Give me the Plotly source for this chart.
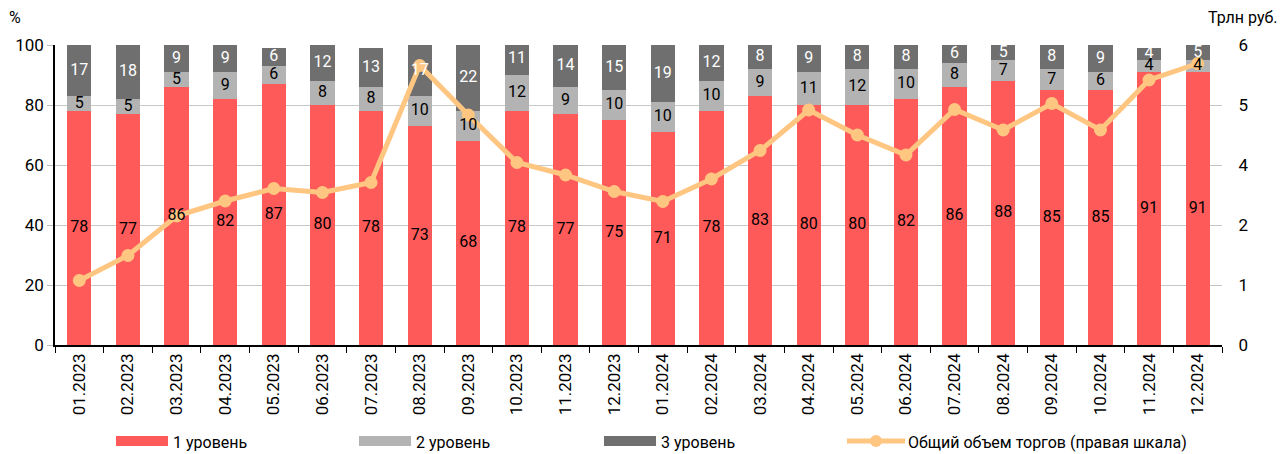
import plotly.graph_objects as go

months = ["01.2023", "02.2023", "03.2023", "04.2023", "05.2023", "06.2023",
          "07.2023", "08.2023", "09.2023", "10.2023", "11.2023", "12.2023",
          "01.2024", "02.2024", "03.2024", "04.2024", "05.2024", "06.2024",
          "07.2024", "08.2024", "09.2024", "10.2024", "11.2024", "12.2024"]
level1 = [78, 77, 86, 82, 87, 80, 78, 73, 68, 78, 77, 75,
          71, 78, 83, 80, 80, 82, 86, 88, 85, 85, 91, 91]
level2 = [5, 5, 5, 9, 6, 8, 8, 10, 10, 12, 9, 10,
          10, 10, 9, 11, 12, 10, 8, 7, 7, 6, 4, 4]
level3 = [17, 18, 9, 9, 6, 12, 13, 17, 22, 11, 14, 15,
          19, 12, 8, 9, 8, 8, 6, 5, 8, 9, 4, 5]
volume = [1.29, 1.79, 2.58, 2.88, 3.13, 3.05, 3.25, 5.59, 4.60, 3.65, 3.40, 3.07,
          2.87, 3.32, 3.89, 4.70, 4.20, 3.80, 4.71, 4.30, 4.83, 4.30, 5.30, 5.63]

left_ticks = [0, 20, 40, 60, 80, 100]
right_tickvals = [0, 1.2, 2.4, 3.6, 4.8, 6]
right_ticktext = ["0", "1", "2", "4", "5", "6"]

names = ["1 уровень", "2 уровень", "3 уровень", "Общий объем торгов (правая шкала)"]
C1, C2, C3, CL = "#FF5A5A", "#B3B3B3", "#6F6F6F", "#FFC682"
FONT = "Roboto"

W, H = 1286, 454
L, R, T, B = 55, 64, 45, 109

fig = go.Figure()
series = [(level1, C1, "black", names[0]),
          (level2, C2, "black", names[1]),
          (level3, C3, "white", names[2])]
for vals, col, txtcol, nm in series:
    fig.add_trace(go.Bar(
        x=months, y=vals, name=nm, marker=dict(color=col, line=dict(width=0)),
        showlegend=False, hoverinfo="x+y"))

fig.add_trace(go.Scatter(
    x=months, y=volume, name=names[3], yaxis="y2", mode="lines+markers",
    line=dict(color=CL, width=5), marker=dict(color=CL, size=13),
    showlegend=False))

# value labels, centred in each stacked segment, drawn above the line
base = [0] * len(months)
for vals, col, txtcol, nm in series:
    mids = [b + v / 2 for b, v in zip(base, vals)]
    fig.add_trace(go.Scatter(
        x=months, y=mids, yaxis="y3", mode="text", text=[str(v) for v in vals],
        textposition="middle center", textfont=dict(family=FONT, size=16, color=txtcol),
        showlegend=False, hoverinfo="skip"))
    base = [b + v for b, v in zip(base, vals)]


def px_x(p):
    return (p - L) / (W - L - R)


def px_y(p):
    return (H - B - p) / (H - T - B)


shapes = []
annotations = []
legend_items = [(116, C1, names[0]), (359, C2, names[1]), (604, C3, names[2])]
for x0, col, nm in legend_items:
    shapes.append(dict(type="rect", xref="paper", yref="paper",
                       x0=px_x(x0), x1=px_x(x0 + 52), y0=px_y(446), y1=px_y(436),
                       fillcolor=col, line=dict(width=0)))
    annotations.append(dict(xref="paper", yref="paper", x=px_x(x0 + 55), y=px_y(442),
                            text=nm, showarrow=False, xanchor="left", yanchor="middle",
                            font=dict(family=FONT, size=16, color="black")))
shapes.append(dict(type="line", xref="paper", yref="paper",
                   x0=px_x(847), x1=px_x(905), y0=px_y(441), y1=px_y(441),
                   line=dict(color=CL, width=5)))
shapes.append(dict(type="circle", xref="paper", yref="paper",
                   x0=px_x(870), x1=px_x(882), y0=px_y(447), y1=px_y(435),
                   fillcolor=CL, line=dict(width=0)))
annotations.append(dict(xref="paper", yref="paper", x=px_x(906), y=px_y(442),
                        text=names[3], showarrow=False, xanchor="left", yanchor="middle",
                        font=dict(family=FONT, size=16, color="black")))
annotations.append(dict(xref="paper", yref="paper", x=px_x(7), y=px_y(18),
                        text="%", showarrow=False, xanchor="left", yanchor="middle",
                        font=dict(family=FONT, size=16, color="black")))
annotations.append(dict(xref="paper", yref="paper", x=px_x(1280), y=px_y(18),
                        text="Трлн руб.", showarrow=False, xanchor="right", yanchor="middle",
                        font=dict(family=FONT, size=16, color="black")))

fig.update_layout(
    width=W, height=H, barmode="stack", bargap=0.5,
    margin=dict(l=L, r=R, t=T, b=B, pad=0),
    plot_bgcolor="white", paper_bgcolor="white",
    font=dict(family=FONT, size=16, color="black"),
    xaxis=dict(type="category", range=[-0.5, len(months) - 0.5], tickangle=-90,
               showline=True, linecolor="black", linewidth=1.5, ticks="outside",
               tickson="boundaries", ticklen=6, tickcolor="black",
               tickfont=dict(family=FONT, size=17, color="black"), showgrid=False),
    yaxis=dict(range=[0, 100], tickvals=left_ticks, showline=True, linecolor="black",
               linewidth=1.5, ticks="outside", ticklen=6, tickcolor="#BFBFBF",
               showgrid=True, gridcolor="#C8C8C8", gridwidth=1.2, zeroline=False,
               tickfont=dict(family=FONT, size=17, color="black")),
    yaxis2=dict(range=[0, 6], overlaying="y", side="right", tickvals=right_tickvals,
                ticktext=right_ticktext, showgrid=False, showline=False, zeroline=False,
                ticks="outside", ticklen=12, tickcolor="rgba(0,0,0,0)",
                tickfont=dict(family=FONT, size=17, color="black")),
    yaxis3=dict(range=[0, 100], overlaying="y", side="left", visible=False,
                showgrid=False, zeroline=False),
    shapes=shapes, annotations=annotations, showlegend=False,
)

fig.write_html("out.html", config={"displayModeBar": False})

# remove the default page margin so the figure fills the window exactly
with open("out.html", encoding="utf-8") as f:
    html = f.read()
html = html.replace("<head>", "<head><style>html,body{margin:0;padding:0;overflow:hidden;}</style>", 1)
with open("out.html", "w", encoding="utf-8") as f:
    f.write(html)
